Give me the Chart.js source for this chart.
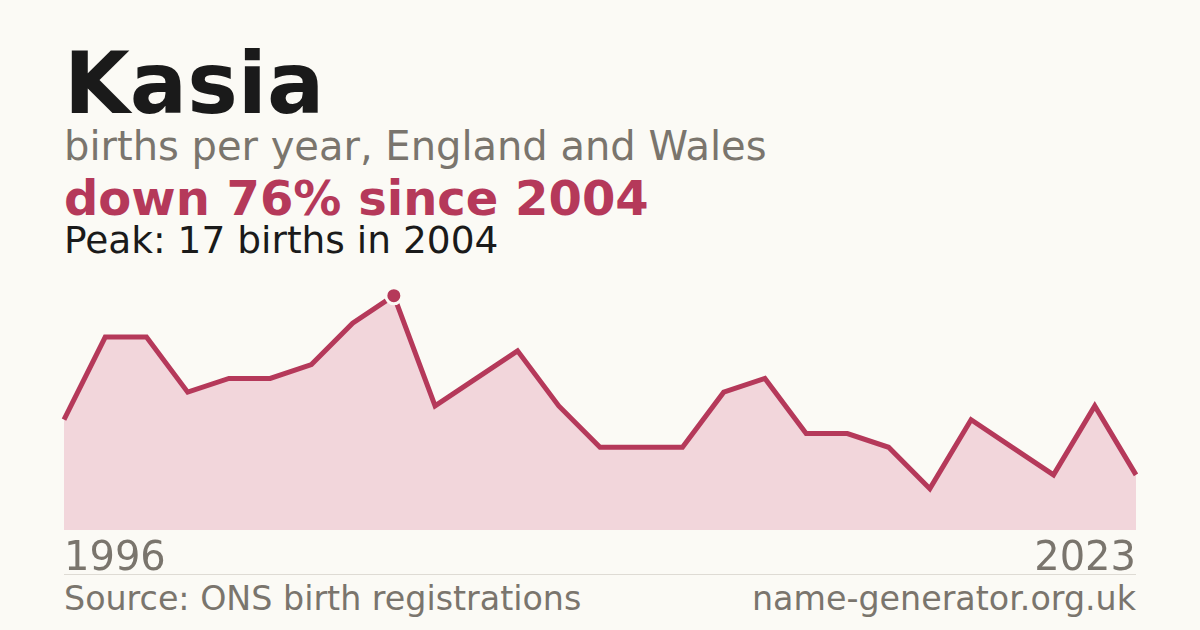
<!DOCTYPE html>
<html>
<head>
<meta charset="utf-8">
<script src="https://cdn.jsdelivr.net/npm/chart.js@4/dist/chart.umd.min.js"></script>
<style>
  html, body { margin: 0; padding: 0; }
  body {
    width: 1200px; height: 630px; overflow: hidden; position: relative;
    background: #fbfaf5; font-family: 'DejaVu Sans', sans-serif;
  }
  .txt { position: absolute; left: 64px; line-height: 1; white-space: nowrap; }
  #title { top: 41px; font-size: 85px; font-weight: bold; color: #1a1a1a; }
  #sub { top: 126px; font-size: 40px; color: #7a756d; }
  #change { top: 174px; font-size: 48px; font-weight: bold; color: #b5395a; }
  #peak { top: 222px; font-size: 37.5px; color: #1a1a1a; }
  .yr { top: 536px; font-size: 40px; color: #7a756d; }
  #yrEnd { left: auto; right: 64px; }
  #rule { position: absolute; left: 64px; width: 1072px; top: 574px; height: 1px; background: #dedbd4; }
  .foot { top: 582px; font-size: 33.3px; color: #7a756d; }
  #site { left: auto; right: 64px; }
  #wrap { position: absolute; left: 54px; top: 260px; width: 1092px; height: 280px; }
</style>
</head>
<body>
<div class="txt" id="title">Kasia</div>
<div class="txt" id="sub">births per year, England and Wales</div>
<div class="txt" id="change">down 76% since 2004</div>
<div class="txt" id="peak">Peak: 17 births in 2004</div>
<div id="wrap"><canvas id="chart"></canvas></div>
<div class="txt yr" id="yrStart">1996</div>
<div class="txt yr" id="yrEnd">2023</div>
<div id="rule"></div>
<div class="txt foot">Source: ONS birth registrations</div>
<div class="txt foot" id="site">name-generator.org.uk</div>

<script>
// ===================== DATA =====================
// one year has no published count, so 27 points span 1996–2023
const YEARS = ['1996','1997','1998','1999','2000','2001','2002','2003','2004','2005',
               '2006','2007','2008','2009','2010','2011','2012','2013','2014','2016',
               '2017','2018','2019','2020','2021','2022','2023'];
const BIRTHS = [8, 14, 14, 10, 11, 11, 12, 15, 17, 9,
                11, 13, 9, 6, 6, 6, 10, 11, 7, 7,
                6, 3, 8, 6, 4, 9, 4];
const PEAK_YEAR = '2004';

const RED = '#b5395a';
const FILL = '#f2d6db';

const peakIdx = YEARS.indexOf(PEAK_YEAR);

new Chart(document.getElementById('chart'), {
  type: 'line',
  data: {
    labels: YEARS,
    datasets: [{
      data: BIRTHS,
      borderColor: RED,
      borderWidth: 5,
      backgroundColor: FILL,
      fill: 'origin',
      tension: 0,
      pointRadius: YEARS.map((y, i) => i === peakIdx ? 8 : 0),
      pointBackgroundColor: RED,
      pointBorderColor: '#fbfaf5',
      pointBorderWidth: 3,
      pointHoverRadius: 0,
    }]
  },
  options: {
    responsive: true,
    maintainAspectRatio: false,
    animation: false,
    layout: { padding: { left: 10, right: 10, top: 15, bottom: 10 } },
    plugins: { legend: { display: false }, tooltip: { enabled: false } },
    scales: {
      x: { display: false, offset: false },
      y: { display: false, min: 0, max: 18.5 }
    },
    elements: { line: { borderJoinStyle: 'miter' } },
    clip: false,
  }
});
</script>
</body>
</html>
